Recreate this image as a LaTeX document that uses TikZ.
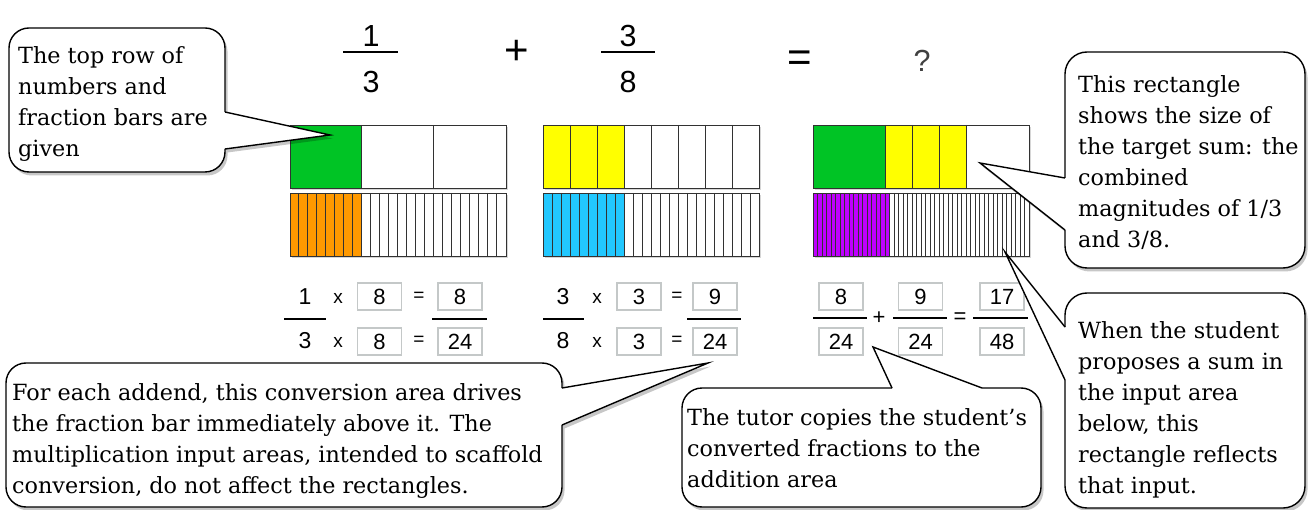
\documentclass[tikz,border=0pt]{standalone}
\usepackage{fontspec}
\setmainfont{DejaVu Serif}
\newfontfamily\arialf{Liberation Sans}
\definecolor{fgreen}{RGB}{0,196,37}
\definecolor{forange}{RGB}{255,153,0}
\definecolor{fyellow}{RGB}{255,255,0}
\definecolor{fblue}{RGB}{34,200,255}
\definecolor{fpurple}{RGB}{191,0,255}
\definecolor{barline}{RGB}{50,50,50}
\definecolor{boxline}{RGB}{196,200,200}
% #1 name, #2 x, #3 y, #4 slices, #5 coloured slices, #6 colour, #7 divider width
\newcommand{\segbar}[7]{%
  \fill[black!16] ({#2+2},{#3+2}) rectangle ++(216,63);
  \fill[white] (#2,#3) rectangle ++(216,63);
  \fill[#6] (#2,#3) rectangle ++({216*#5/#4},63);
  \pgfmathtruncatemacro\segm{#4-1}
  \foreach \i in {1,...,\segm} \draw[barline, line width=#7] ({#2+216*\i/#4},#3) -- ++(0,63);
  \node[barframe, anchor=north west] (#1) at (#2,#3) {};
}
\newcommand{\callbg}[2]{%
  \begin{scope}[transform canvas={shift={(2.5,3.5)}}]
    \fill[black, opacity=0.22] #1 [sharp corners] #2;
  \end{scope}
  \fill[white] #1 [sharp corners] #2;
}
\begin{document}
\begin{tikzpicture}[x=1pt,y=-1pt,
  barframe/.style={draw=barline, line width=1pt, minimum width=216pt, minimum height=63pt, inner sep=0pt},
  coline/.style={draw=black, line width=1.4pt, line join=miter},
  ctext/.style={anchor=north west, inner sep=0pt, align=left, font=\fontsize{22.3}{31}\selectfont},
  bignum/.style={font=\arialf\fontsize{30.5}{30.5}\selectfont, inner sep=0pt},
  bigop/.style={font=\arialf\fontsize{42}{42}\selectfont, inner sep=0pt},
  num/.style={font=\arialf\fontsize{23}{23}\selectfont, inner sep=0pt},
  op/.style={font=\arialf\fontsize{19}{19}\selectfont, inner sep=0pt},
  inbox/.style={draw=boxline, line width=1.5pt, fill=white, minimum width=44pt, minimum height=27pt, inner sep=0pt, font=\arialf\fontsize{22}{22}\selectfont},
  fracbar/.style={line width=2.2pt},
  ]
\useasboundingbox (0,0) rectangle (1308,510);

% ---------- top row: 1/3 + 3/8 = ?
\node[bignum] (n1) at (371,36) {1};
\draw[fracbar] (343,52) -- (398,52);
\node[bignum] (d1) at (371,82) {3};
\node[bigop] (plus) at (517,52) {+};
\node[bignum] (n2) at (628,36) {3};
\draw[fracbar] (601,52) -- (655,52);
\node[bignum] (d2) at (628,82) {8};
\node[bigop] (eq) at (800,61) {=};
\node[bignum, text=black!75] (q) at (922,61) {?};

% ---------- fraction bars
\segbar{b1top}{289.5}{125}{3}{1}{fgreen}{1pt}
\segbar{b1bot}{289.5}{193}{24}{8}{forange}{0.9pt}
\segbar{b2top}{543.3}{125}{8}{3}{fyellow}{1pt}
\segbar{b2bot}{543.3}{193}{24}{9}{fblue}{0.9pt}
% target-sum bar
\fill[black!16] (815.3,127) rectangle ++(216,63);
\fill[white] (813.3,125) rectangle ++(216,63);
\fill[fgreen] (813.3,125) rectangle ++(72,63);
\fill[fyellow] (885.3,125) rectangle ++(81,63);
\foreach \xx in {885.3,912.3,939.3,966.3} \draw[barline, line width=1pt] (\xx,125) -- ++(0,63);
\node[barframe, anchor=north west] (b3top) at (813.3,125) {};
\segbar{b3bot}{813.3}{193}{48}{17}{fpurple}{0.8pt}

% ---------- conversion area 1
\node[num] (c1n) at (305,297) {1};
\draw[fracbar] (284,319) -- (326,319);
\node[num] (c1d) at (305,341) {3};
\node[op] (c1x1) at (338,298) {x};
\node[inbox] (c1m1) at (379.5,296.5) {8};
\node[op] (c1e1) at (419,297) {=};
\node[inbox] (c1r1) at (460,296.5) {8};
\draw[fracbar] (432,319) -- (487,319);
\node[op] (c1x2) at (338,342) {x};
\node[inbox] (c1m2) at (379.5,341.5) {8};
\node[op] (c1e2) at (419,341) {=};
\node[inbox] (c1r2) at (460,341.5) {24};

% ---------- conversion area 2
\node[num] (c2n) at (563,297) {3};
\draw[fracbar] (543,319) -- (584,319);
\node[num] (c2d) at (563,341) {8};
\node[op] (c2x1) at (597,298) {x};
\node[inbox] (c2m1) at (639,296.5) {3};
\node[op] (c2e1) at (677,297) {=};
\node[inbox] (c2r1) at (715,296.5) {9};
\draw[fracbar] (687,319) -- (741,319);
\node[op] (c2x2) at (597,342) {x};
\node[inbox] (c2m2) at (639,341.5) {3};
\node[op] (c2e2) at (677,341) {=};
\node[inbox] (c2r2) at (715,341.5) {24};

% ---------- addition area
\node[inbox] (a1n) at (841,296.5) {8};
\draw[fracbar] (813,318) -- (867,318);
\node[inbox] (a1d) at (841,341.5) {24};
\node[op, font=\arialf\fontsize{22}{22}\selectfont] (aplus) at (879,318) {+};
\node[inbox] (a2n) at (920.5,296.5) {9};
\draw[fracbar] (893,318) -- (947,318);
\node[inbox] (a2d) at (920.5,341.5) {24};
\node[op, font=\arialf\fontsize{22}{22}\selectfont] (aeq) at (960,318) {=};
\node[inbox] (a3n) at (1002,296.5) {17};
\draw[fracbar] (973,318) -- (1028,318);
\node[inbox] (a3d) at (1002,341.5) {48};

% ---------- callouts
\coordinate (tip1) at (330,135);
\coordinate (tip2) at (708,363);
\coordinate (tip3) at (873,347);
\coordinate (tip4) at (980,163);
\coordinate (tip5) at (1005,252);

% callout 1
\callbg{(9,28) [rounded corners=20pt] rectangle (225,172)}{(225,112) -- (tip1) -- (225,149) -- cycle}
\draw[coline, rounded corners=20pt] (225,149) -- (225,172) -- (9,172) -- (9,28) -- (225,28) -- (225,112);
\draw[coline] (225,112) -- (tip1) -- (225,149);
\node[ctext] (t1) at (18,46) {The top row of\\numbers and\\fraction bars are\\given};

% callout 2
\callbg{(6,363) [rounded corners=20pt] rectangle (562,507)}{(562,388) -- (tip2) -- (562,425) -- cycle}
\draw[coline, rounded corners=20pt] (562,425) -- (562,507) -- (6,507) -- (6,363) -- (562,363) -- (562,388);
\draw[coline] (562,388) -- (tip2) -- (562,425);
\node[ctext] (t2) at (12,383) {For each addend, this conversion area drives\\the fraction bar immediately above it. The\\multiplication input areas, intended to scaffold\\conversion, do not affect the rectangles.};

% callout 3
\callbg{(682,388) [rounded corners=20pt] rectangle (1041,507)}{(892,388) -- (tip3) -- (982,388) -- cycle}
\draw[coline, rounded corners=20pt] (982,388) -- (1041,388) -- (1041,507) -- (682,507) -- (682,388) -- (892,388);
\draw[coline] (892,388) -- (tip3) -- (982,388);
\node[ctext] (t3) at (687,408) {The tutor copies the student’s\\converted fractions to the\\addition area};

% callout 4
\callbg{(1065,52) [rounded corners=22pt] rectangle (1305,268)}{(1065,178) -- (tip4) -- (1065,230) -- cycle}
\draw[coline, rounded corners=22pt] (1065,178) -- (1065,52) -- (1305,52) -- (1305,268) -- (1065,268) -- (1065,230);
\draw[coline] (1065,178) -- (tip4) -- (1065,230);
\node[ctext] (t4) at (1078,75) {This rectangle\\shows the size of\\the target sum: the\\combined\\magnitudes of 1/3\\and 3/8.};

% callout 5
\callbg{(1065,293) [rounded corners=22pt] rectangle (1305,508)}{(1065,327) -- (tip5) -- (1065,380) -- cycle}
\draw[coline, rounded corners=22pt] (1065,327) -- (1065,293) -- (1305,293) -- (1305,508) -- (1065,508) -- (1065,380);
\draw[coline] (1065,327) -- (tip5) -- (1065,380);
\node[ctext] (t5) at (1078,321) {When the student\\proposes a sum in\\the input area\\below, this\\rectangle reflects\\that input.};
\end{tikzpicture}
\end{document}
